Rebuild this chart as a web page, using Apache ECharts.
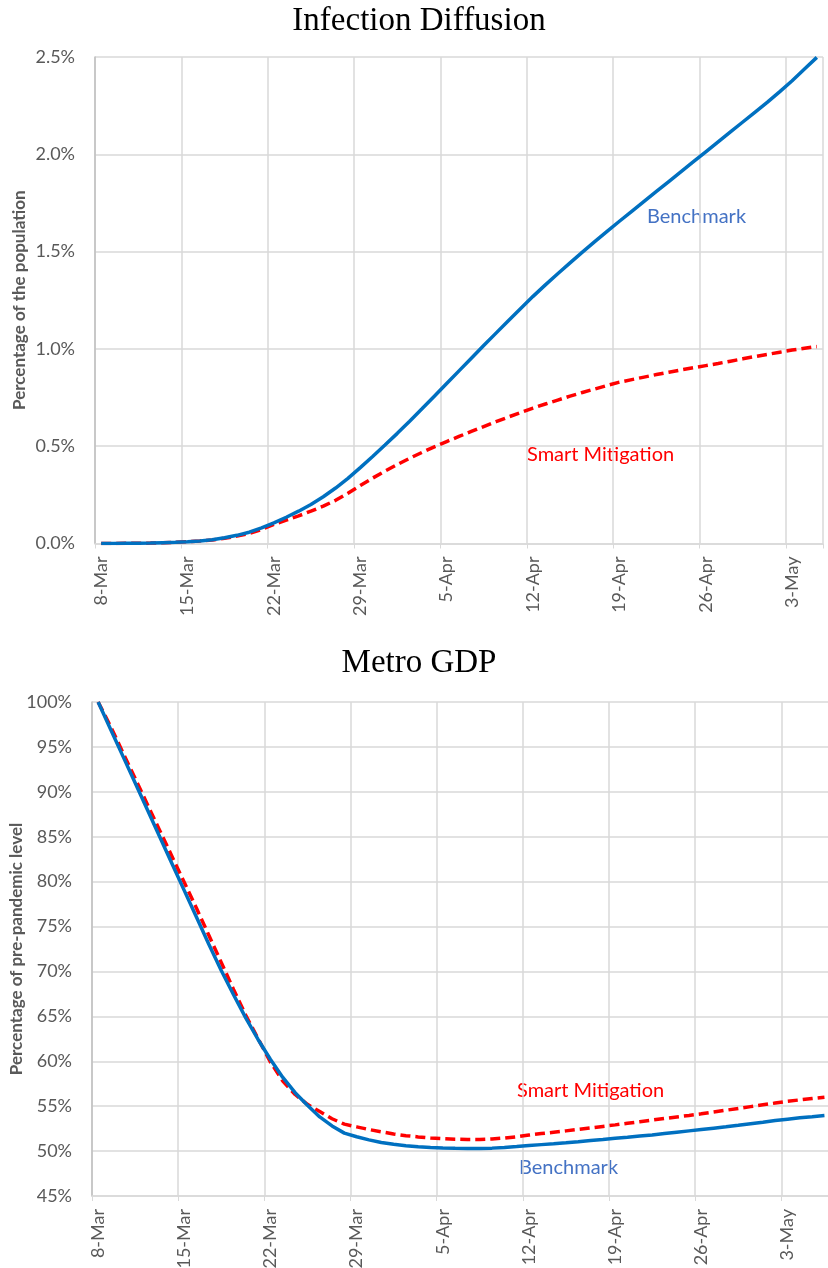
<!DOCTYPE html>
<html>
<head>
<meta charset="utf-8">
<title>Infection Diffusion / Metro GDP</title>
<script src="https://cdn.jsdelivr.net/npm/echarts@6/dist/echarts.min.js"></script>
<style>
    html, body { margin: 0; padding: 0; background: #fff; }
    #main { width: 828px; height: 1268px; }
</style>
</head>
<body>
<div id="main"></div>
<script>
// 日期类目 (8-Mar ~ 6-May, 每天一个点)
var dates = [
    '8-Mar', '9-Mar', '10-Mar', '11-Mar', '12-Mar', '13-Mar', '14-Mar',
    '15-Mar', '16-Mar', '17-Mar', '18-Mar', '19-Mar', '20-Mar', '21-Mar',
    '22-Mar', '23-Mar', '24-Mar', '25-Mar', '26-Mar', '27-Mar', '28-Mar',
    '29-Mar', '30-Mar', '31-Mar', '1-Apr', '2-Apr', '3-Apr', '4-Apr',
    '5-Apr', '6-Apr', '7-Apr', '8-Apr', '9-Apr', '10-Apr', '11-Apr',
    '12-Apr', '13-Apr', '14-Apr', '15-Apr', '16-Apr', '17-Apr', '18-Apr',
    '19-Apr', '20-Apr', '21-Apr', '22-Apr', '23-Apr', '24-Apr', '25-Apr',
    '26-Apr', '27-Apr', '28-Apr', '29-Apr', '30-Apr', '1-May', '2-May',
    '3-May', '4-May', '5-May', '6-May'
];

// 感染比例 (% of population)，上图到 5-May
var infectBenchmark = [
    0.000, 0.000, 0.001, 0.001, 0.002, 0.004, 0.006,
    0.009, 0.013, 0.019, 0.030, 0.042, 0.058, 0.080,
    0.106, 0.135, 0.166, 0.200, 0.240, 0.285, 0.335,
    0.390, 0.447, 0.506, 0.566, 0.628, 0.692, 0.757,
    0.822, 0.887, 0.952, 1.017, 1.081, 1.145, 1.208,
    1.270, 1.329, 1.386, 1.442, 1.497, 1.551, 1.604,
    1.656, 1.707, 1.758, 1.809, 1.860, 1.911, 1.962,
    2.013, 2.064, 2.115, 2.166, 2.217, 2.268, 2.322,
    2.378, 2.438, 2.498
];
var infectSmart = [
    0.000, 0.000, 0.001, 0.001, 0.002, 0.004, 0.006,
    0.009, 0.013, 0.018, 0.027, 0.038, 0.052, 0.072,
    0.098, 0.120, 0.142, 0.166, 0.192, 0.222, 0.258,
    0.298, 0.336, 0.372, 0.406, 0.438, 0.468, 0.497,
    0.524, 0.550, 0.576, 0.601, 0.626, 0.650, 0.673,
    0.696, 0.717, 0.737, 0.757, 0.776, 0.794, 0.812,
    0.829, 0.842, 0.855, 0.868, 0.880, 0.892, 0.903,
    0.914, 0.925, 0.937, 0.949, 0.961, 0.972, 0.983,
    0.994, 1.003, 1.012
];

// GDP (% of pre-pandemic level)，下图到 6-May
var gdpBenchmark = [
    100, 97.0, 94.0, 91.0, 88.0, 85.0, 82.0,
    79.0, 76.0, 73.0, 70.1, 67.4, 64.8, 62.4,
    60.2, 58.2, 56.5, 55.1, 53.8, 52.8, 52.0,
    51.6, 51.25, 50.95, 50.75, 50.6, 50.48, 50.4,
    50.35, 50.32, 50.3, 50.3, 50.33, 50.4, 50.5,
    50.62, 50.72, 50.82, 50.93, 51.05, 51.18, 51.3,
    51.43, 51.55, 51.68, 51.8, 51.95, 52.1, 52.25,
    52.4, 52.55, 52.7, 52.87, 53.05, 53.22, 53.4,
    53.55, 53.7, 53.82, 53.95
];
var gdpSmart = [
    100, 97.3, 94.4, 91.5, 88.6, 85.7, 82.8,
    79.9, 77.0, 74.0, 71.0, 68.0, 65.1, 62.5,
    59.9, 57.8, 56.3, 55.2, 54.4, 53.6, 53.0,
    52.7, 52.4, 52.15, 51.9, 51.72, 51.58, 51.46,
    51.38, 51.32, 51.3, 51.3, 51.35, 51.45, 51.6,
    51.78, 51.95, 52.1, 52.25, 52.42, 52.58, 52.75,
    52.92, 53.1, 53.27, 53.45, 53.63, 53.8, 53.97,
    54.15, 54.35, 54.55, 54.75, 54.95, 55.15, 55.35,
    55.55, 55.7, 55.85, 56.0
];

var titles = ['Infection Diffusion', 'Metro GDP'];
var yNames = ['Percentage of the population', 'Percentage of pre-pandemic level'];

var BLUE = '#0070C0';
var RED = '#FF0000';
var GRID_COLOR = '#d9d9d9';
var LABEL_COLOR = '#595959';
var LABEL_FONT = 'Lato, "Open Sans", sans-serif';
var TITLE_FONT = '"Liberation Serif", "DejaVu Serif", serif';

// x轴公用配置：每7天一个刻度/网格线
function dateAxis(gridIndex, data) {
    return {
        type: 'category',
        gridIndex: gridIndex,
        data: data,
        boundaryGap: true,
        axisLine: { lineStyle: { color: GRID_COLOR, width: 1.5 } },
        axisTick: { show: true, interval: 6, length: 5, lineStyle: { color: GRID_COLOR } },
        splitLine: { show: true, interval: 6, lineStyle: { color: GRID_COLOR, width: 1.5 } },
        axisLabel: {
            interval: 6,
            rotate: 90,
            margin: 13,
            color: LABEL_COLOR,
            fontFamily: LABEL_FONT,
            fontSize: 18
        }
    };
}

function valueAxis(gridIndex, min, max, interval, digits, name, nameGap) {
    return {
        type: 'value',
        gridIndex: gridIndex,
        min: min,
        max: max,
        interval: interval,
        name: name,
        nameLocation: 'middle',
        nameRotate: 90,
        nameGap: nameGap,
        nameMoveOverlap: false,
        nameTextStyle: {
            color: LABEL_COLOR,
            fontFamily: LABEL_FONT,
            fontWeight: 'bold',
            fontSize: 17
        },
        axisLine: { show: true, lineStyle: { color: '#bfbfbf', width: 1.5 } },
        axisTick: { show: false },
        splitLine: { show: true, lineStyle: { color: GRID_COLOR, width: 1.5 } },
        axisLabel: {
            margin: 20,
            color: LABEL_COLOR,
            fontFamily: LABEL_FONT,
            fontSize: 18,
            formatter: function (v) { return v.toFixed(digits) + '%'; }
        }
    };
}

function lineSeries(name, color, dashed, xi, yi, data) {
    return {
        name: name,
        type: 'line',
        xAxisIndex: xi,
        yAxisIndex: yi,
        data: data,
        showSymbol: false,
        silent: true,
        lineStyle: { color: color, width: 3.5, type: dashed ? [10, 5] : 'solid' }
    };
}

// 曲线旁的文字标注
function noteText(text, color, left, top) {
    return {
        type: 'text',
        left: left,
        top: top,
        style: { text: text, fill: color, font: '20px ' + LABEL_FONT }
    };
}

var chart = echarts.init(document.getElementById('main'), null, { renderer: 'canvas' });

var titleStyle = { fontFamily: TITLE_FONT, fontWeight: 'normal', fontSize: 33, color: '#000' };

var option = {
    backgroundColor: '#fff',
    animation: false,
    title: [
        { text: titles[0], left: 414, textAlign: 'center', top: 0, textStyle: titleStyle },
        { text: titles[1], left: 414, textAlign: 'center', top: 642, textStyle: titleStyle }
    ],
    // outerBoundsMode: 'none' 防止v6自动挤压网格
    grid: [
        { left: 95, top: 57, width: 728, height: 486.5, outerBoundsMode: 'none' },
        { left: 92, top: 702, width: 738.6, height: 494, outerBoundsMode: 'none' }
    ],
    xAxis: [
        dateAxis(0, dates.slice(0, infectBenchmark.length)),
        dateAxis(1, dates.slice(0, gdpBenchmark.length))
    ],
    yAxis: [
        valueAxis(0, 0, 2.5, 0.5, 1, yNames[0], 67),
        valueAxis(1, 45, 100, 5, 0, yNames[1], 67)
    ],
    series: [
        lineSeries('Smart Mitigation', RED, true, 0, 0, infectSmart),
        lineSeries('Benchmark', BLUE, false, 0, 0, infectBenchmark),
        lineSeries('Smart Mitigation', RED, true, 1, 1, gdpSmart),
        lineSeries('Benchmark', BLUE, false, 1, 1, gdpBenchmark)
    ],
    graphic: [
        noteText('Benchmark', '#4472C4', 647, 207),
        noteText('Smart Mitigation', RED, 527, 445),
        noteText('Smart Mitigation', RED, 517, 1081),
        noteText('Benchmark', '#4472C4', 519, 1158)
    ]
};

chart.setOption(option);
</script>
</body>
</html>
